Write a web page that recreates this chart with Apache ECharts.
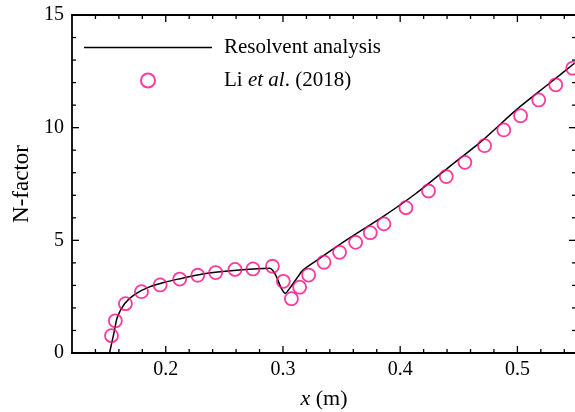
<!DOCTYPE html>
<html><head><meta charset="utf-8">
<script src="https://cdn.jsdelivr.net/npm/echarts@6/dist/echarts.min.js"></script>
<style>html,body{margin:0;padding:0;background:#fff}#c{width:575px;height:412px}</style>
</head><body><div id="c"></div>
<script>
// Resolvent analysis curve
const lineX = [0.152, 0.1557, 0.1588, 0.165, 0.1736, 0.185, 0.199, 0.2134, 0.2304, 0.263, 0.2887, 0.2915, 0.2944, 0.2986, 0.302, 0.3057, 0.3128, 0.317, 0.3313, 0.3553, 0.3853, 0.4137, 0.4421, 0.4705, 0.499, 0.5274, 0.5487];
const lineY = [0, 0.87, 1.61, 2.2, 2.6, 2.91, 3.14, 3.31, 3.5, 3.68, 3.76, 3.65, 3.39, 2.87, 2.65, 2.87, 3.39, 3.68, 4.2, 5.05, 6.05, 7.09, 8.27, 9.45, 10.79, 11.97, 12.86];
// Li et al. (2018) data points
const liX = [0.1537, 0.157, 0.1656, 0.1793, 0.1952, 0.2119, 0.2273, 0.2426, 0.2591, 0.2744, 0.291, 0.3003, 0.3072, 0.3142, 0.3219, 0.335, 0.3483, 0.362, 0.3745, 0.3861, 0.4049, 0.4242, 0.4393, 0.4552, 0.472, 0.4884, 0.5027, 0.5182, 0.5327, 0.5472];
const liY = [0.77, 1.43, 2.19, 2.72, 3.02, 3.28, 3.45, 3.57, 3.71, 3.73, 3.85, 3.18, 2.41, 2.92, 3.46, 4.03, 4.47, 4.91, 5.34, 5.73, 6.45, 7.19, 7.83, 8.46, 9.2, 9.9, 10.53, 11.23, 11.9, 12.64];
// x label grid (0.12 .. 0.55 in steps of 0.01) and labelled values
const xTickGrid = ['0.12','0.13','0.14','0.15','0.16','0.17','0.18','0.19','0.20','0.21','0.22','0.23','0.24','0.25','0.26','0.27','0.28','0.29','0.30','0.31','0.32','0.33','0.34','0.35','0.36','0.37','0.38','0.39','0.40','0.41','0.42','0.43','0.44','0.45','0.46','0.47','0.48','0.49','0.50','0.51','0.52','0.53','0.54','0.55'];
const xLabels = ['0.20', '0.30', '0.40', '0.50'];
// tick mark values
const xMajorTickVals = [0.2, 0.3, 0.4, 0.5];
const xMinorTickVals = [0.14, 0.16, 0.18, 0.22, 0.24, 0.26, 0.28, 0.32, 0.34, 0.36, 0.38, 0.42, 0.44, 0.46, 0.48, 0.52, 0.54];
const yMajorTickVals = [5, 10];
const yMinorTickVals = [1, 2, 3, 4, 6, 7, 8, 9, 11, 12, 13, 14];
const yTickInterval = 5;   // labels 0, 5, 10, 15

const FONT = 'Liberation Serif';
const PINK = '#ff0a82';
const X_MIN = 0.12, X_MAX = 0.55, Y_MIN = 0, Y_MAX = 15;
const MAJOR_LEN = 7, MINOR_LEN = 4;
const RECT = { left: 72, top: 15, width: 504, height: 338, outerBoundsMode: 'none' };
const axLine = (show) => ({ show: show, onZero: false, lineStyle: { color: '#000', width: 1.8 } });

const chart = echarts.init(document.getElementById('c'));
chart.setOption({
  animation: false,
  grid: [0, 1, 2].map(() => Object.assign({}, RECT)),
  xAxis: [
    { gridIndex: 0, type: 'value', position: 'bottom', min: X_MIN, max: X_MAX,
      axisLine: axLine(true), axisTick: { show: false }, axisLabel: { show: false }, splitLine: { show: false },
      name: '{i|x} (m)', nameLocation: 'middle', nameGap: 35,
      nameTextStyle: { color: '#000', fontFamily: FONT, fontSize: 22, lineHeight: 22, rich: { i: { fontStyle: 'italic', fontFamily: FONT, fontSize: 22, lineHeight: 22, color: '#000' } } } },
    { gridIndex: 1, type: 'value', position: 'top', min: X_MIN, max: X_MAX,
      axisLine: axLine(true), axisTick: { show: false }, axisLabel: { show: false }, splitLine: { show: false } },
    { gridIndex: 2, type: 'category', position: 'bottom', data: xTickGrid, boundaryGap: false,
      axisLine: axLine(true), axisTick: { show: false },
      axisLabel: { show: true, interval: (i, v) => xLabels.includes(v), formatter: v => parseFloat(v).toFixed(1), color: '#000', fontFamily: FONT, fontSize: 20, margin: 7 },
      splitLine: { show: false } }
  ],
  yAxis: [
    { gridIndex: 0, type: 'value', position: 'left', min: Y_MIN, max: Y_MAX, interval: yTickInterval,
      axisLine: axLine(true), axisTick: { show: false },
      axisLabel: { show: true, color: '#000', fontFamily: FONT, fontSize: 20, margin: 8 },
      splitLine: { show: false },
      name: 'N-factor', nameLocation: 'middle', nameGap: 37,
      nameTextStyle: { color: '#000', fontFamily: FONT, fontSize: 23 } },
    { gridIndex: 1, type: 'value', position: 'right', min: Y_MIN, max: Y_MAX, interval: yTickInterval,
      axisLine: axLine(false), axisTick: { show: false }, axisLabel: { show: false }, splitLine: { show: false } },
    { gridIndex: 2, type: 'value', min: Y_MIN, max: Y_MAX, show: false }
  ],
  legend: {
    orient: 'vertical', left: 79, top: 32, itemWidth: 128, itemHeight: 14, itemGap: 12,
    data: [
      { name: 'Resolvent analysis', icon: 'path://M0,0H128V1.5H0Z' },
      { name: 'Li et al. (2018)' }
    ],
    formatter: n => n.replace('et al', '{i|et al}'),
    textStyle: { color: '#000', fontFamily: FONT, fontSize: 21, lineHeight: 21, padding: [0, 0, 0, 7],
      rich: { i: { fontStyle: 'italic', fontFamily: FONT, fontSize: 21, lineHeight: 21, color: '#000' } } }
  },
  series: [
    // inward tick marks on all four sides, placed through the axis scales
    {
      name: 'xticks', type: 'custom', xAxisIndex: 0, yAxisIndex: 0, silent: true, clip: false, z: 10, zlevel: 0,
      data: xMajorTickVals.map(v => [v, MAJOR_LEN]).concat(xMinorTickVals.map(v => [v, MINOR_LEN])),
      renderItem: (params, api) => {
        const v = api.value(0), len = api.value(1);
        const b = api.coord([v, Y_MIN]), t = api.coord([v, Y_MAX]);
        const st = { stroke: '#000', lineWidth: 1.3 };
        return { type: 'group', children: [
          { type: 'line', shape: { x1: b[0], y1: b[1], x2: b[0], y2: b[1] - len }, style: st },
          { type: 'line', shape: { x1: t[0], y1: t[1], x2: t[0], y2: t[1] + len }, style: st }
        ] };
      }
    },
    {
      name: 'yticks', type: 'custom', xAxisIndex: 0, yAxisIndex: 0, silent: true, clip: false, z: 10, zlevel: 0,
      data: yMajorTickVals.map(v => [X_MIN, v, MAJOR_LEN]).concat(yMinorTickVals.map(v => [X_MIN, v, MINOR_LEN])),
      encode: { x: 0, y: 1 },
      renderItem: (params, api) => {
        const v = api.value(1), len = api.value(2);
        const l = api.coord([X_MIN, v]), r = api.coord([X_MAX, v]);
        const st = { stroke: '#000', lineWidth: 1.3 };
        return { type: 'group', children: [
          { type: 'line', shape: { x1: l[0], y1: l[1], x2: l[0] + len, y2: l[1] }, style: st },
          { type: 'line', shape: { x1: r[0], y1: r[1], x2: r[0] - len, y2: r[1] }, style: st }
        ] };
      }
    },
    {
      name: 'Resolvent analysis', type: 'line', xAxisIndex: 0, yAxisIndex: 0,
      data: lineX.map((x, i) => [x, lineY[i]]),
      symbol: 'none', smooth: 0.25, lineStyle: { color: '#000', width: 1.5 }, itemStyle: { color: '#000' }, z: 2
    },
    {
      name: 'Li et al. (2018)', type: 'scatter', xAxisIndex: 0, yAxisIndex: 0,
      data: liX.map((x, i) => [x, liY[i]]),
      symbol: 'circle', symbolSize: 13,
      itemStyle: { color: 'rgba(255,255,255,0)', borderColor: PINK, borderWidth: 1.8 }, z: 3
    }
  ]
});
</script></body></html>
